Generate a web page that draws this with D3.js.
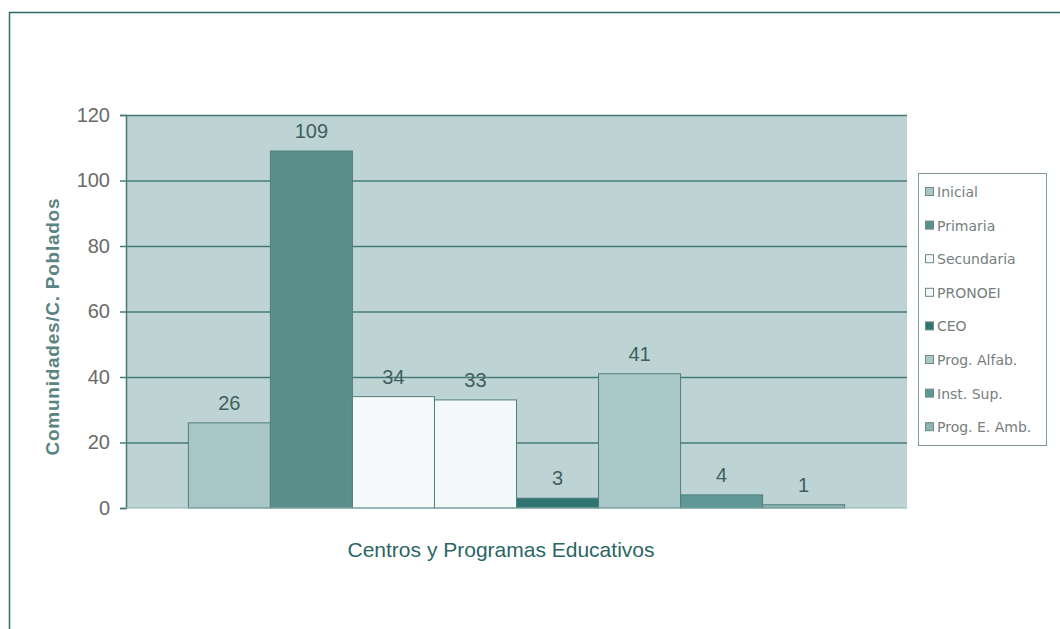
<!DOCTYPE html>
<html>
<head>
<meta charset="utf-8">
<script src="https://cdn.jsdelivr.net/npm/d3@7"></script>
<style>
  body { margin: 0; background: #fff; }
  text { font-family: "Liberation Sans", Arial, sans-serif; }
</style>
</head>
<body>
<div id="chart"></div>
<script>
// data
var categories = ["Inicial", "Primaria", "Secundaria", "PRONOEI", "CEO", "Prog. Alfab.", "Inst. Sup.", "Prog. E. Amb."];
var values = [26, 109, 34, 33, 3, 41, 4, 1];
var colors = ["#a9c6c6", "#5b8f8c", "#f6fafa", "#f3f8f8", "#2f7470", "#abc8c8", "#5f9896", "#8fb3b2"];
var yTicks = [0, 20, 40, 60, 80, 100, 120];

var width = 1060, height = 629;
var plot = {left: 126, top: 115, right: 907, bottom: 508};

var svg = d3.select("#chart").append("svg")
    .attr("width", width)
    .attr("height", height);

// outer frame
svg.append("path")
    .attr("d", "M9.5," + height + "V12.5H" + width)
    .attr("fill", "none")
    .attr("stroke", "#2d6b68")
    .attr("stroke-width", 1.5);

var y = d3.scaleLinear().domain([0, 120]).range([plot.bottom, plot.top]);
var x = d3.scaleBand().domain(categories)
    .range([plot.left, plot.right])
    .paddingInner(0)
    .paddingOuter(0.76);

// plot background
svg.append("rect")
    .attr("x", plot.left).attr("y", plot.top)
    .attr("width", plot.right - plot.left)
    .attr("height", plot.bottom - plot.top)
    .attr("fill", "#bed4d4");

// gridlines
svg.append("g").selectAll("line")
    .data(yTicks.filter(function(d) { return d > 0; }))
    .enter().append("line")
    .attr("x1", plot.left).attr("x2", plot.right)
    .attr("y1", function(d) { return y(d) + 0.5; })
    .attr("y2", function(d) { return y(d) + 0.5; })
    .attr("stroke", "#477a77")
    .attr("stroke-width", 1.5);

// bars
svg.append("g").selectAll("rect")
    .data(values)
    .enter().append("rect")
    .attr("x", function(d, i) { return x(categories[i]); })
    .attr("y", function(d) { return y(d); })
    .attr("width", x.bandwidth())
    .attr("height", function(d) { return y(0) - y(d); })
    .attr("fill", function(d, i) { return colors[i]; })
    .attr("stroke", "#4f7f7c")
    .attr("stroke-width", 1);

// value labels
svg.append("g").selectAll("text")
    .data(values)
    .enter().append("text")
    .attr("x", function(d, i) { return x(categories[i]) + x.bandwidth() / 2; })
    .attr("y", function(d) { return y(d) - 13; })
    .attr("text-anchor", "middle")
    .attr("font-size", 20)
    .attr("fill", "#3f5f5e")
    .text(function(d) { return d; });

// y axis
var yAxis = svg.append("g")
    .attr("transform", "translate(" + plot.left + ",0)")
    .call(d3.axisLeft(y).tickValues(yTicks).tickSize(6).tickPadding(10));
yAxis.select(".domain").attr("stroke", "#477a77").attr("stroke-width", 1.5);
yAxis.selectAll(".tick line").attr("stroke", "#477a77").attr("stroke-width", 1.5);
yAxis.selectAll(".tick text")
    .attr("font-size", 20)
    .attr("fill", "#6a6a6a")
    .style("font-family", "'Liberation Sans', Arial, sans-serif");

// bottom line of plot
svg.append("line")
    .attr("x1", plot.left).attr("x2", plot.right)
    .attr("y1", plot.bottom).attr("y2", plot.bottom)
    .attr("stroke", "#8fb0b0");

// axis titles
svg.append("text")
    .attr("transform", "translate(52,327) rotate(-90)")
    .attr("text-anchor", "middle")
    .attr("dy", "0.35em")
    .attr("font-size", 19)
    .attr("font-weight", "bold")
    .attr("fill", "#5a8482")
    .attr("textLength", 257)
    .text("Comunidades/C. Poblados");

svg.append("text")
    .attr("x", 501).attr("y", 557)
    .attr("text-anchor", "middle")
    .attr("font-size", 21)
    .attr("fill", "#2a6664")
    .text("Centros y Programas Educativos");

// legend
var legend = svg.append("g");
legend.append("rect")
    .attr("x", 918.5).attr("y", 173.5)
    .attr("width", 128).attr("height", 272)
    .attr("fill", "#fff")
    .attr("stroke", "#7d9a99");

var items = legend.selectAll("g.item")
    .data(categories)
    .enter().append("g")
    .attr("class", "item")
    .attr("transform", function(d, i) { return "translate(925," + (192 + i * 33.6) + ")"; });

items.append("rect")
    .attr("x", 0.5).attr("y", -4.5)
    .attr("width", 8).attr("height", 8)
    .attr("fill", function(d, i) { return colors[i]; })
    .attr("stroke", "#6a8a89");

items.append("text")
    .attr("x", 12)
    .attr("dy", "0.35em")
    .attr("font-size", 14)
    .attr("fill", "#767e7e")
    .style("font-family", "'DejaVu Sans', sans-serif")
    .text(function(d) { return d; });
</script>
</body>
</html>
